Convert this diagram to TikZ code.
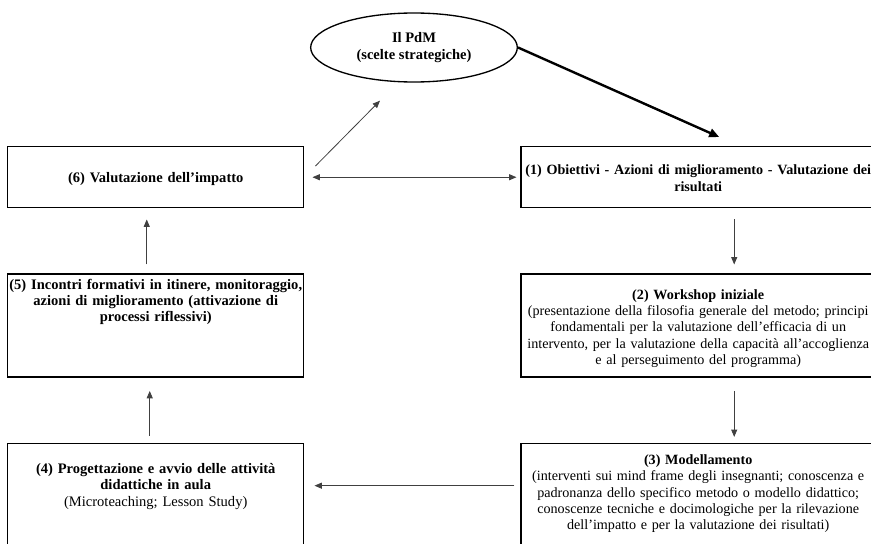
\documentclass[tikz,border=0pt]{standalone}
\usepackage{fontspec}
\setmainfont{Liberation Serif}
\usetikzlibrary{arrows.meta,positioning,shapes.geometric}

\begin{document}
\begin{tikzpicture}[
  x=0.75pt, y=-0.75pt,
  node distance=48.75pt and 162pt,
  box/.style={draw, line width=1.1pt, align=center, inner xsep=0.5pt, inner ysep=0pt, font=\fontsize{10.9}{12.2}\selectfont},
  lbox/.style={box, text width=221pt},
  rbox/.style={box, text width=264.5pt, font=\fontsize{10.6}{12.2}\selectfont},
  pdm/.style={ellipse, draw, line width=1pt, align=center, minimum width=155pt, minimum height=51.75pt, font=\fontsize{10.9}{12.6}\selectfont\bfseries},
  arrow/.style={-{Triangle[length=5.5pt,width=4.5pt]}, line width=0.6pt, draw=black!75},
  heavy/.style={-{Triangle[length=7.5pt,width=6.5pt]}, line width=1.8pt}
]
\useasboundingbox (0,0) rectangle (871,543);

\node[pdm] (p) at (414,47.5) {Il PdM\\(scelte strategiche)};

\node[lbox, anchor=north west, text height=27pt, text depth=18.75pt] (v6) at (7,146) {\textbf{(6) Valutazione dell’impatto}};
\node[lbox, below=of v6, text height=11.25pt, text depth=66pt] (v5) {\textbf{(5) Incontri formativi in itinere, monitoraggio,}\\\textbf{azioni di miglioramento (attivazione di}\\\textbf{processi riflessivi)}};
\node[lbox, below=of v5, text height=22.5pt, text depth=67.5pt] (v4) {\textbf{(4) Progettazione e avvio delle attività}\\\textbf{didattiche in aula}\\(Microteaching; Lesson Study)};

\node[rbox, right=of v6, text height=21pt, text depth=24.75pt] (v1) {\mbox{\textbf{(1) Obiettivi - Azioni di miglioramento - Valutazione dei}}\\\textbf{risultati}};
\node[rbox, below=of v1, text height=18.75pt, text depth=58.5pt] (v2) {\textbf{(2) Workshop iniziale}\\(presentazione della filosofia generale del metodo; principi\\fondamentali per la valutazione dell’efficacia di un\\intervento, per la valutazione della capacità all’accoglienza\\e al perseguimento del programma)};
\node[rbox, below=of v2, text height=15.75pt, text depth=74.25pt] (v3) {\textbf{(3) Modellamento}\\(interventi sui mind frame degli insegnanti; conoscenza e\\padronanza dello specifico metodo o modello didattico;\\conoscenze tecniche e docimologiche per la rilevazione\\dell’impatto e per la valutazione dei risultati)};

% ciclo
\draw[heavy] (p.east) -- ([xshift=15.75pt, yshift=6.75pt]v1.north);
\draw[arrow] ([xshift=8.25pt, yshift=-15pt]v6.north east) -- ([xshift=-25.5pt, yshift=-13.5pt]p.south);
\draw[arrow, {Triangle[length=5.5pt,width=4.5pt]}-{Triangle[length=5.5pt,width=4.5pt]}, shorten <=6pt, shorten >=3pt] (v6.east) -- (v1.west);
\draw[arrow, shorten <=8.25pt, shorten >=6.75pt] ([xshift=27pt]v1.south) -- ([xshift=27pt]v2.north);
\draw[arrow, shorten <=9.75pt, shorten >=4.5pt] ([xshift=27pt]v2.south) -- ([xshift=27pt]v3.north);
\draw[arrow, shorten <=4.5pt, shorten >=7.5pt] ([yshift=13.5pt]v3.west) -- ([yshift=13.5pt]v4.east);
\draw[arrow, shorten <=5.25pt, shorten >=9.75pt] ([xshift=-4.5pt]v4.north) -- ([xshift=-4.5pt]v5.south);
\draw[arrow, shorten <=6.75pt, shorten >=8.25pt] ([xshift=-6.75pt]v5.north) -- ([xshift=-6.75pt]v6.south);
\end{tikzpicture}
\end{document}
